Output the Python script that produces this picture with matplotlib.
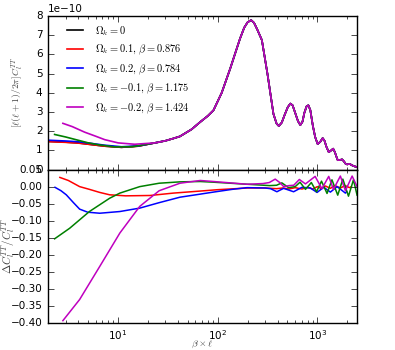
import matplotlib
matplotlib.use("Agg")
import matplotlib.pyplot as plt
import numpy as np
from matplotlib.font_manager import FontProperties

plt.style.use('classic')
plt.rcParams['mathtext.fontset'] = 'cm'
plt.rcParams['xtick.labelsize'] = 7.5
plt.rcParams['ytick.labelsize'] = 7.5

# ---- top panel: [l(l+1)/2pi] C_l^TT in units of 1e-10 ----
# low-l part differs between models
lo_x_black = [2.0, 3.0, 4.0, 5.5, 7.4, 10.9, 16.0]
lo_y_black = [1.47, 1.43, 1.39, 1.30, 1.22, 1.16, 1.22]
lo_x_red = [2.0, 3.0, 4.0, 5.5, 7.4, 10.9, 16.0]
lo_y_red = [1.46, 1.42, 1.38, 1.30, 1.22, 1.16, 1.22]
lo_x_blue = [2.0, 3.0, 4.0, 5.5, 7.4, 10.9, 16.0]
lo_y_blue = [1.53, 1.49, 1.45, 1.36, 1.27, 1.19, 1.23]
lo_x_green = [2.33, 3.0, 4.0, 5.0, 6.3, 9.3, 14.0]
lo_y_green = [1.83, 1.70, 1.53, 1.40, 1.30, 1.18, 1.19]
lo_x_mag = [2.82, 3.5, 4.66, 6.0, 7.4, 10.1, 14.8]
lo_y_mag = [2.41, 2.24, 1.95, 1.74, 1.56, 1.39, 1.32]

# high-l part common to all models
hi_x = [23.5, 30, 36, 42, 55, 67, 80, 91, 110, 134, 150, 168, 185, 200, 217,
        232, 250, 278, 316, 363, 390, 411, 440, 470, 505, 536, 565, 600, 640,
        675, 710, 740, 780, 813, 850, 900, 950, 1007, 1070, 1130, 1180, 1230,
        1300, 1360, 1440, 1500, 1550, 1600, 1680, 1770, 1850, 1920, 1990,
        2100, 2230, 2350, 2500]
hi_y = [1.39, 1.50, 1.62, 1.73, 2.10, 2.48, 2.80, 3.09, 4.00, 5.27, 6.05,
        6.83, 7.40, 7.68, 7.79, 7.65, 7.30, 6.75, 5.00, 2.90, 2.40, 2.27,
        2.45, 2.85, 3.25, 3.44, 3.35, 2.95, 2.52, 2.32, 2.50, 2.95, 3.30,
        3.35, 3.10, 2.30, 1.70, 1.33, 1.45, 1.64, 1.50, 1.20, 0.91, 0.98,
        1.09, 0.90, 0.68, 0.49, 0.50, 0.53, 0.42, 0.30, 0.27, 0.30, 0.22,
        0.17, 0.13]

# ---- bottom panel: Delta C_l / C_l ----
d_x_red = [2.63, 3.2, 4.15, 5.2, 6.6, 8.3, 12, 21, 36, 67, 100, 200, 300,
           390, 450, 520, 600, 700, 800, 900, 1000, 1100, 1200, 1350, 1500,
           1700, 1900, 2100, 2190]
d_y_red = [0.027, 0.018, 0.0, -0.008, -0.017, -0.024, -0.027, -0.026,
           -0.019, -0.013, -0.009, -0.004, -0.004, -0.006, -0.004, -0.007,
           -0.003, -0.007, -0.002, -0.007, 0.0, -0.006, 0.002, -0.005, 0.003,
           -0.004, 0.003, -0.003, 0.0]
d_x_blue = [2.35, 2.7, 3.05, 3.6, 4.15, 5.0, 6.6, 10.5, 16.6, 26, 42, 67, 91,
            140, 197, 300, 340, 393, 459, 578, 701, 850, 993, 1157, 1351,
            1578, 1910, 1960]
d_y_blue = [-0.002, -0.012, -0.024, -0.047, -0.066, -0.075, -0.078, -0.073,
            -0.063, -0.047, -0.031, -0.022, -0.016, -0.008, -0.003, -0.004,
            -0.006, -0.015, -0.005, -0.015, -0.002, -0.004, -0.017, -0.002,
            -0.016, 0.0, -0.019, -0.015]
d_x_green = [2.33, 3.3, 5.2, 8.3, 10.5, 16.6, 26, 42, 67, 91, 197, 334, 390,
             441, 515, 600, 670, 760, 870, 980, 1100, 1250, 1400, 1600, 1800,
             2050, 2300, 2500]
d_y_green = [-0.153, -0.122, -0.073, -0.034, -0.019, 0.0, 0.010, 0.014,
             0.015, 0.013, 0.007, 0.003, 0.004, 0.011, -0.003, 0.0, 0.013,
             -0.008, 0.012, -0.015, 0.016, -0.020, 0.020, -0.025, 0.022,
             -0.028, 0.020, -0.025]
d_x_mag = [2.82, 4.15, 6.6, 10.5, 16.6, 26, 42, 67, 91, 197, 285, 330, 378,
           420, 460, 520, 580, 660, 760, 950, 1110, 1300, 1450, 1700, 1910,
           2230, 2500]
d_y_mag = [-0.393, -0.331, -0.234, -0.136, -0.058, -0.012, 0.010, 0.018,
           0.015, 0.007, 0.009, 0.012, 0.022, 0.012, 0.0, 0.003, 0.004,
           0.021, 0.008, 0.030, -0.006, 0.030, -0.008, 0.031, -0.012, 0.031,
           0.0]

labels = [r'$\Omega_k=0$',
          r'$\Omega_k=0.1,\,\beta=0.876$',
          r'$\Omega_k=0.2,\,\beta=0.784$',
          r'$\Omega_k=-0.1,\,\beta=1.175$',
          r'$\Omega_k=-0.2,\,\beta=1.424$']
colors = ['k', 'r', 'b', 'g', 'm']

top_series = [(lo_x_black, lo_y_black), (lo_x_red, lo_y_red),
              (lo_x_blue, lo_y_blue), (lo_x_green, lo_y_green),
              (lo_x_mag, lo_y_mag)]
bot_series = [(d_x_red, d_y_red), (d_x_blue, d_y_blue),
              (d_x_green, d_y_green), (d_x_mag, d_y_mag)]

fig = plt.figure(figsize=(3.95, 3.5), dpi=100, facecolor='white')
gs = fig.add_gridspec(2, 1, left=0.1215, right=0.904, top=0.954,
                      bottom=0.077, hspace=0.0)
ax1 = fig.add_subplot(gs[0])
ax2 = fig.add_subplot(gs[1], sharex=ax1)

for (lx, ly), c, lab in zip(top_series, colors, labels):
    x = np.array(lx + hi_x)
    y = np.array(ly + hi_y) * 1e-10
    ax1.plot(x, y, color=c, lw=1.2, label=lab)

for (dx, dy), c in zip(bot_series, colors[1:]):
    ax2.plot(dx, dy, color=c, lw=1.1)

ax1.set_xscale('log')
ax1.set_xlim(2, 2500)
ax1.set_ylim(0, 8e-10)
ax1.set_yticks(np.arange(0, 9) * 1e-10)
plt.setp(ax1.get_xticklabels(), visible=False)

ax2.set_ylim(-0.40, 0.05)
ax2.set_yticks(np.arange(-0.40, 0.051, 0.05))

mfp = FontProperties(size=7.5, math_fontfamily='cm')
leg = ax1.legend(loc='upper left', frameon=False, prop=mfp,
                 handlelength=2.2, labelspacing=0.5,
                 bbox_to_anchor=(0.02, 1.01))

ax1.set_ylabel(r'$[\ell(\ell+1)/2\pi]C_l^{TT}$', fontsize=7, color='0.25')
ax1.yaxis.set_label_coords(-0.074, 0.5)
ax2.set_ylabel(r'$\Delta C_l^{TT}/C_l^{TT}$', fontsize=8, color='0.25')
ax2.yaxis.set_label_coords(-0.10, 0.5)
ax2.set_xlabel(r'$\beta\times\ell$', fontsize=7, color='0.25')
ax2.xaxis.set_label_coords(0.5, -0.10)

for ax in (ax1, ax2):
    ax.tick_params(which='major', length=4)
    ax.tick_params(which='minor', length=2)
ax1.yaxis.get_offset_text().set_fontsize(7.5)

fig.savefig('out.png', dpi=100, facecolor='white')
